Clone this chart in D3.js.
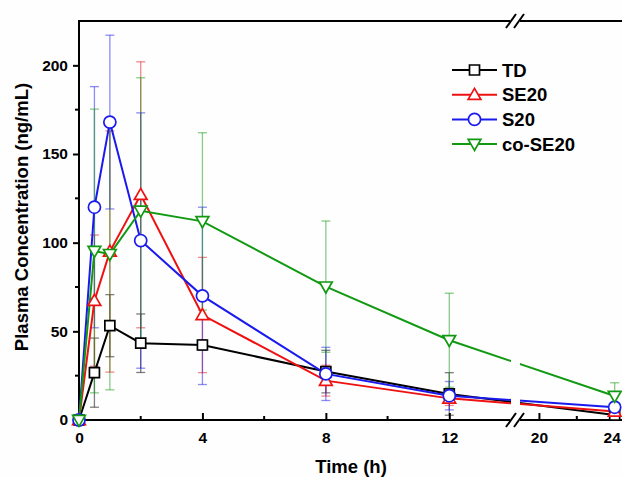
<!DOCTYPE html>
<html>
<head>
<meta charset="utf-8">
<script src="https://cdn.jsdelivr.net/npm/d3@7"></script>
<style>
html,body{margin:0;padding:0;background:#fff;}
svg{display:block;font-family:"Liberation Sans",Arial,sans-serif;}
</style>
</head>
<body>
<svg id="chart" width="622" height="477"></svg>
<script>
// ---- data ----
const times = [0, 0.5, 1, 2, 4, 8, 12, 24];
const seriesNames = ["TD", "SE20", "S20", "co-SE20"];
const tdValues   = [0, 26.7, 53.2, 43.3, 42.3, 27.3, 14.7, 2.8];
const tdErrors   = [0, 19.5, 17.5, 16.5, 3, 12, 12, 1.5];
const se20Values = [0, 67.3, 95, 127, 59.2, 22.2, 12.2, 4.8];
const se20Errors = [0, 37, 68, 75, 32.5, 8.7, 4, 2];
const s20Values  = [0, 120, 168, 101.2, 70, 26, 13.7, 7.2];
const s20Errors  = [0, 68, 49, 72, 50, 15, 8, 2];
const coValues   = [0, 95.3, 93.5, 118, 112, 75.2, 45, 13.5];
const coErrors   = [0, 80, 76.5, 75, 50, 37, 26.5, 7.5];
const yTicks = [0, 50, 100, 150, 200];
const yMinor = [25, 75, 125, 175];
const xTicks1 = [0, 4, 8, 12];
const xTicks2 = [20, 24];
const xMinor1 = [2, 6, 10];
const xMinor2 = [22];

const colors = ["#000000", "#ee1111", "#1a1aee", "#119911"];
const symbols = ["square", "triangle", "circle", "triangleDown"];
const valuesList = [tdValues, se20Values, s20Values, coValues];
const errorsList = [tdErrors, se20Errors, s20Errors, coErrors];

const series = seriesNames.map((name, i) => ({
  name, color: colors[i], symbol: symbols[i],
  points: times.map((t, j) => ({t, v: valuesList[i][j], e: errorsList[i][j]}))
}));

// ---- layout ----
const svg = d3.select("#chart");
const plotL = 79, plotT = 21, plotB = 420;
const breakL = 511, breakR = 520;
const x1 = d3.scaleLinear().domain([0, 14]).range([plotL, breakL]);
const x2 = d3.scaleLinear().domain([19, 25]).range([breakR, 633.6]);
const X = t => t <= 14 ? x1(t) : x2(t);
const y = d3.scaleLinear().domain([0, 225]).range([plotB, plotT]);

svg.append("rect").attr("width", 622).attr("height", 477).attr("fill", "#fefefe");

// clip for break gap
const defs = svg.append("defs");
const cp = defs.append("clipPath").attr("id", "gap");
cp.append("rect").attr("x", 0).attr("y", 0).attr("width", breakL).attr("height", 477);
cp.append("rect").attr("x", breakR).attr("y", 0).attr("width", 300).attr("height", 477);

// ---- axes ----
const fontTick = "15.5px";
const fmt = d3.format("d");
const yAxis = d3.axisLeft(y).tickValues(yTicks).tickFormat(fmt).tickSize(6).tickPadding(5);
const gy = svg.append("g").attr("transform", `translate(${plotL},0)`).call(yAxis);
gy.select(".domain").remove();
gy.selectAll(".tick line").attr("stroke", "#000").attr("stroke-width", 2);
gy.selectAll(".tick text").attr("font-size", fontTick).attr("font-weight", "bold")
  .attr("font-family", "Liberation Sans, Arial, sans-serif").attr("fill", "#000");
gy.selectAll(".minor").data(yMinor).enter().append("line")
  .attr("x1", 0).attr("x2", -4).attr("y1", d => y(d)).attr("y2", d => y(d))
  .attr("stroke", "#000").attr("stroke-width", 2);

function xAxisPart(scale, ticks, minor) {
  const ax = d3.axisBottom(scale).tickValues(ticks).tickFormat(fmt).tickSize(-7).tickPadding(12);
  const g = svg.append("g").attr("transform", `translate(0,${plotB})`).call(ax);
  g.select(".domain").remove();
  g.selectAll(".tick line").attr("stroke", "#000").attr("stroke-width", 2);
  g.selectAll(".tick text").attr("font-size", fontTick).attr("font-weight", "bold")
    .attr("font-family", "Liberation Sans, Arial, sans-serif").attr("fill", "#000")
    .attr("dx", d => d === 24 ? -3 : 0);
  g.selectAll(".minor").data(minor).enter().append("line")
    .attr("x1", d => scale(d)).attr("x2", d => scale(d)).attr("y1", 0).attr("y2", -4)
    .attr("stroke", "#000").attr("stroke-width", 2);
}
xAxisPart(x1, xTicks1, xMinor1);
xAxisPart(x2, xTicks2, xMinor2);

// frame lines
const frame = svg.append("g").attr("stroke", "#000").attr("stroke-width", 2).attr("fill", "none");
frame.append("line").attr("x1", plotL).attr("x2", plotL).attr("y1", plotT - 1).attr("y2", plotB + 1);
[plotT, plotB].forEach(yy => {
  frame.append("line").attr("x1", plotL - 1).attr("x2", 510).attr("y1", yy).attr("y2", yy);
  frame.append("line").attr("x1", 520).attr("x2", 640).attr("y1", yy).attr("y2", yy);
  frame.append("line").attr("x1", 506).attr("x2", 516).attr("y1", yy + 7).attr("y2", yy - 7);
  frame.append("line").attr("x1", 514).attr("x2", 524).attr("y1", yy + 7).attr("y2", yy - 7);
});

// ---- error bars ----
const eb = svg.append("g");
series.forEach(s => {
  const g = eb.append("g").attr("stroke", s.color).attr("stroke-opacity", 0.5).attr("stroke-width", 1.3);
  s.points.filter(p => p.e > 0).forEach(p => {
    const cx = X(p.t);
    g.append("line").attr("x1", cx).attr("x2", cx).attr("y1", y(p.v + p.e)).attr("y2", y(Math.max(0, p.v - p.e)));
    g.append("line").attr("x1", cx - 4.5).attr("x2", cx + 4.5).attr("y1", y(p.v + p.e)).attr("y2", y(p.v + p.e));
    if (p.v - p.e > 0)
      g.append("line").attr("x1", cx - 4.5).attr("x2", cx + 4.5).attr("y1", y(p.v - p.e)).attr("y2", y(p.v - p.e));
  });
});

// ---- lines ----
const line = d3.line().x(d => X(d.t)).y(d => y(d.v));
const lg = svg.append("g").attr("clip-path", "url(#gap)");
series.forEach(s => {
  lg.append("path").datum(s.points).attr("d", line)
    .attr("fill", "none").attr("stroke", s.color).attr("stroke-width", 2);
});

// ---- markers ----
function symbolPath(kind) {
  if (kind === "square") return d3.symbol(d3.symbolSquare, 100)();
  if (kind === "circle") return d3.symbol(d3.symbolCircle, 115)();
  return d3.symbol(d3.symbolTriangle, 70)();
}
function drawMarker(g, kind, cx, cy, color) {
  const rot = kind === "triangleDown" ? 180 : 0;
  const dy = kind === "triangle" ? 1 : (kind === "triangleDown" ? -1 : 0);
  g.append("path").attr("d", symbolPath(kind))
    .attr("transform", `translate(${cx},${cy + dy}) rotate(${rot})`)
    .attr("fill", "#fff").attr("stroke", color).attr("stroke-width", 1.7);
}
const mg = svg.append("g");
series.forEach(s => {
  s.points.forEach(p => drawMarker(mg, s.symbol, X(p.t), y(p.v), s.color));
});

// ---- legend ----
const leg = svg.append("g");
const legY0 = 70, legStep = 24.7;
series.forEach((s, i) => {
  const yy = legY0 + i * legStep;
  leg.append("line").attr("x1", 452).attr("x2", 497).attr("y1", yy).attr("y2", yy)
    .attr("stroke", s.color).attr("stroke-width", 2);
  drawMarker(leg, s.symbol, 474.5, yy, s.color);
  leg.append("text").attr("x", 502).attr("y", yy + 6.5)
    .attr("font-size", "18.5px").attr("font-weight", "bold").attr("fill", "#000")
    .text(s.name);
});

// ---- axis titles ----
svg.append("text").attr("x", 351).attr("y", 473).attr("text-anchor", "middle")
  .attr("font-size", "18.5px").attr("font-weight", "bold").text("Time (h)");
svg.append("text").attr("transform", "translate(28,217) rotate(-90)").attr("text-anchor", "middle")
  .attr("font-size", "18.5px").attr("font-weight", "bold").text("Plasma Concentration (ng/mL)");
</script>
</body>
</html>
